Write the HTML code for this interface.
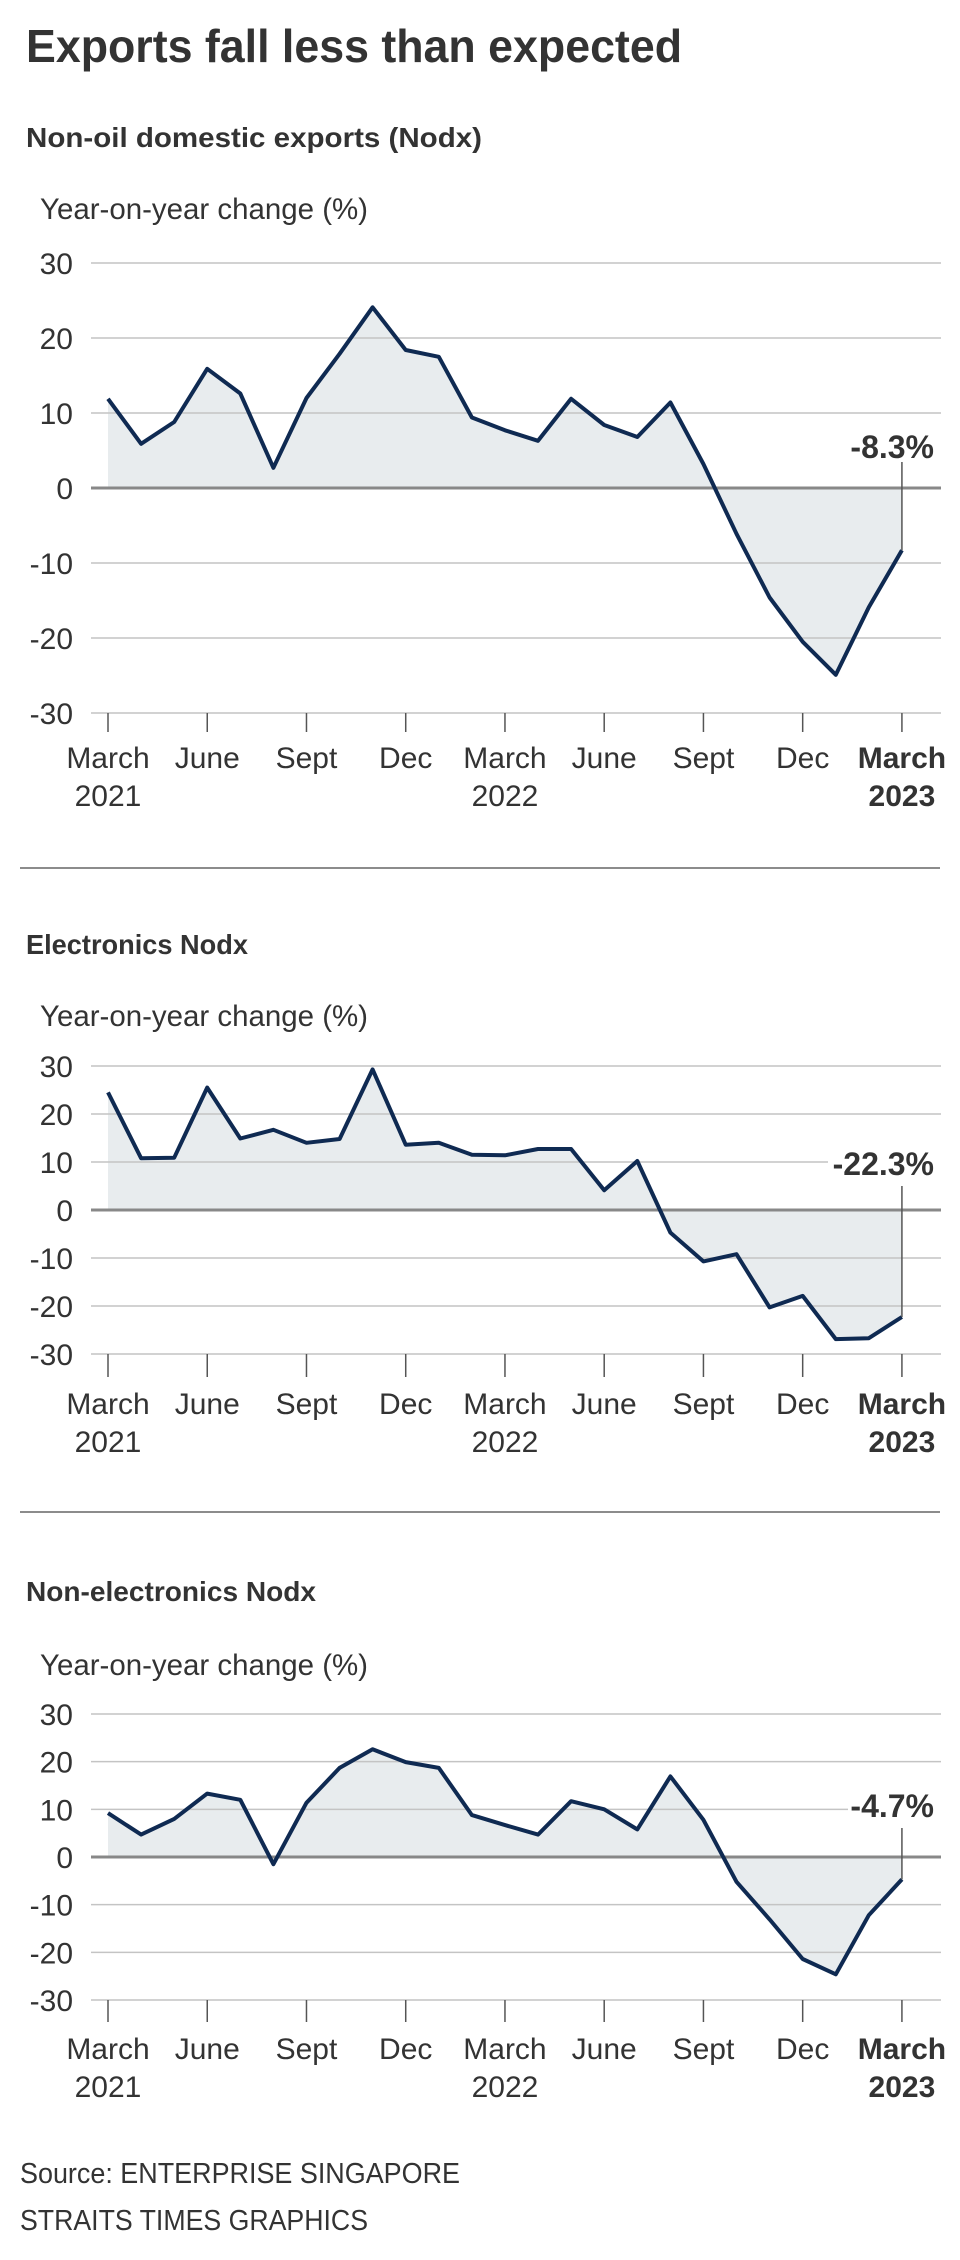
<!DOCTYPE html>
<html><head><meta charset="utf-8">
<style>
html,body{margin:0;padding:0;background:#fff;}
svg{display:block;font-family:"Liberation Sans",sans-serif;}
</style></head>
<body>
<svg id="chart" width="960" height="2260" viewBox="0 0 960 2260" xmlns="http://www.w3.org/2000/svg">
<text x="26" y="62" font-size="46" font-weight="bold" fill="#333" textLength="656" lengthAdjust="spacingAndGlyphs">Exports fall less than expected</text>
<text x="20" y="2183" font-size="29" fill="#333" textLength="440" lengthAdjust="spacingAndGlyphs">Source: ENTERPRISE SINGAPORE</text>
<text x="20" y="2230" font-size="29" fill="#333" textLength="348" lengthAdjust="spacingAndGlyphs">STRAITS TIMES GRAPHICS</text>
<line x1="20" x2="940" y1="868" y2="868" stroke="#666" stroke-width="1.5"/>
<line x1="20" x2="940" y1="1512" y2="1512" stroke="#666" stroke-width="1.5"/>
</svg>
<script>
const months = ["Mar21","Apr21","May21","Jun21","Jul21","Aug21","Sep21","Oct21","Nov21","Dec21","Jan22","Feb22","Mar22","Apr22","May22","Jun22","Jul22","Aug22","Sep22","Oct22","Nov22","Dec22","Jan23","Feb23","Mar23"];
const nodxValues = [11.9,5.9,8.8,15.9,12.6,2.7,12.0,17.9,24.1,18.4,17.5,9.4,7.7,6.3,11.9,8.4,6.8,11.4,3.2,-6.1,-14.6,-20.5,-24.9,-15.9,-8.3];
const electronicsValues = [24.5,10.8,10.9,25.5,14.9,16.7,14.0,14.8,29.3,13.6,14.0,11.5,11.4,12.7,12.7,4.1,10.2,-4.7,-10.7,-9.2,-20.3,-17.9,-26.9,-26.7,-22.3];
const nonElectronicsValues = [9.2,4.7,8.0,13.3,12.0,-1.5,11.4,18.7,22.6,19.9,18.7,8.8,6.7,4.7,11.7,10.0,5.8,16.9,7.8,-5.2,-13.1,-21.4,-24.6,-12.2,-4.7];
const yTicks = [30,20,10,0,-10,-20,-30];
const xTickIdx = [0,3,6,9,12,15,18,21,24];
const xTickLabels = ["March","June","Sept","Dec","March","June","Sept","Dec","March"];
const xTickYears = ["2021","","","","2022","","","","2023"];
const annotations = ["-8.3%","-22.3%","-4.7%"];
const titles = ["Non-oil domestic exports (Nodx)","Electronics Nodx","Non-electronics Nodx"];

const NS="http://www.w3.org/2000/svg";
const svg=document.getElementById('chart');
function mk(tag,attrs,parent){const e=document.createElementNS(NS,tag);for(const k in attrs)e.setAttribute(k,attrs[k]);(parent||svg).appendChild(e);return e;}

const panels=[
 {vals:nodxValues,title:137,ylab:208,top:263,zero:488,bot:713,tickEnd:732,lab1:768,lab2:806,ann:447,annLine:462,tw:456},
 {vals:electronicsValues,title:944,ylab:1015,top:1066,zero:1210,bot:1354,tickEnd:1377,lab1:1414,lab2:1452,ann:1164,annLine:1186,tw:222},
 {vals:nonElectronicsValues,title:1591,ylab:1664,top:1714,zero:1857,bot:2000,tickEnd:2022,lab1:2059,lab2:2097,ann:1806,annLine:1828,tw:290}
];
const X0=108, STEP=33.08, GL=91, GR=941;
const names=["nodx","electronics","non-electronics"];

panels.forEach((p,pi)=>{
  const g=mk('g',{});
  
  
  const xs=i=>X0+i*STEP;
  const ys=v=>p.zero-(v/30)*(p.zero-p.top);
  const t=mk('text',{x:26,y:p.title+10,'font-size':28,'font-weight':'bold',fill:'#333',textLength:p.tw,lengthAdjust:'spacingAndGlyphs'},g);
  t.textContent=titles[pi];
  
  
  const yl=mk('text',{x:40,y:p.ylab+11,'font-size':30,fill:'#333',textLength:328,lengthAdjust:'spacingAndGlyphs'},g);
  yl.textContent="Year-on-year change (%)";
  
  
  let d='M'+xs(0)+','+ys(0);
  p.vals.forEach((v,i)=>{d+=' L'+xs(i).toFixed(1)+','+ys(v).toFixed(1);});
  d+=' L'+xs(p.vals.length-1)+','+ys(0)+' Z';
  const area=mk('path',{d:d,fill:'#e8ecee'},g);
  
  
  yTicks.forEach(v=>{
    const y=ys(v);
    const gl=mk('line',{x1:GL,x2:GR,y1:y,y2:y,stroke:v===0?'#888':'#c4c4c4','stroke-width':v===0?3:1.5},g);
    
    
    const tl=mk('text',{x:73,y:y+11,'font-size':30,fill:'#333','text-anchor':'end'},g);
    tl.textContent=String(v);
    
    
  });
  xTickIdx.forEach((idx,k)=>{
    const x=xs(idx);
    const tk=mk('line',{x1:x,x2:x,y1:ys(-30),y2:p.tickEnd,stroke:'#555','stroke-width':1.5},g);
    
    
    const last=k===xTickIdx.length-1;
    const l1=mk('text',{x:last?Math.min(x,912):x,y:p.lab1,'font-size':30,fill:'#333','text-anchor':'middle','font-weight':last?'bold':'normal'},g);
    l1.textContent=xTickLabels[k];
    
    
    if(xTickYears[k]){
      const l2=mk('text',{x:x,y:p.lab2,'font-size':30,fill:'#333','text-anchor':'middle','font-weight':last?'bold':'normal'},g);
      l2.textContent=xTickYears[k];
      
      
    }
  });
  const pts=p.vals.map((v,i)=>xs(i).toFixed(1)+','+ys(v).toFixed(1)).join(' ');
  const ln=mk('polyline',{points:pts,fill:'none',stroke:'#0f2a52','stroke-width':4,'stroke-linejoin':'round'},g);
  
  
  const lastI=p.vals.length-1;
  const bgW=pi===1?100:80;
  const bg=mk('rect',{x:936-bgW-8,y:p.ann-22,width:bgW+14,height:40,fill:'#fff'},g);
  
  
  const al=mk('line',{x1:xs(lastI),x2:xs(lastI),y1:p.annLine,y2:ys(p.vals[lastI]),stroke:'#555','stroke-width':1.5},g);
  
  
  const at=mk('text',{x:934,y:p.ann+11,'font-size':32,'font-weight':'bold',fill:'#333','text-anchor':'end'},g);
  at.textContent=annotations[pi];
  
  
});
</script>
</body></html>
